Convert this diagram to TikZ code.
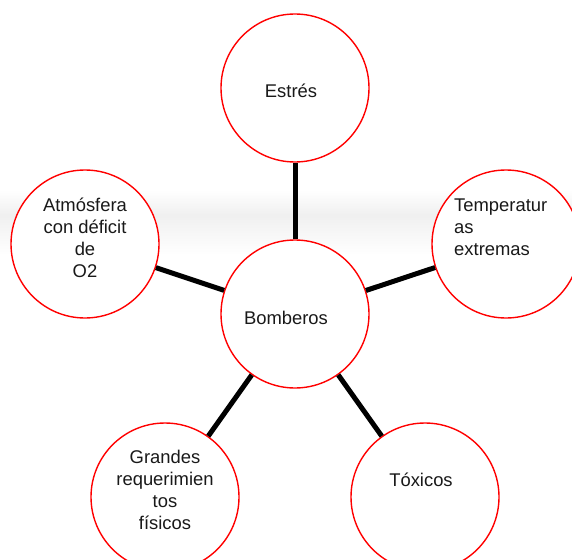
\documentclass[tikz,border=0pt]{standalone}
\usepackage{fontspec}
\setmainfont{Liberation Sans}
\begin{document}
\begin{tikzpicture}[x=1pt,y=-1pt,
  bubble/.style={circle,draw=red,line width=1.4pt,fill=white,minimum size=148pt,inner sep=0pt},
  lbl/.style={inner sep=0pt,font=\fontsize{18.4}{22}\selectfont,text=black!90},
  link/.style={line width=5pt,black}]
\path[use as bounding box,clip] (0,0) rectangle (572,559);
\fill[white] (0,0) rectangle (572,559);
% faint background watermark
\shade[top color=white,bottom color=black!6] (0,190) rectangle (572,215);
\shade[top color=black!6,bottom color=white] (0,215) rectangle (572,255);

\node[bubble] (c) at (295,314) {};
\node[bubble] (e) at (295,88) {};
\node[bubble] (a) at (85,244) {};
\node[bubble] (t) at (506,244) {};
\node[bubble] (g) at (165,497) {};
\node[bubble] (x) at (425,497) {};

\draw[link] (c) -- (e);
\draw[link] (c) -- (a);
\draw[link] (c) -- (t);
\draw[link] (c) -- (g);
\draw[link] (c) -- (x);

\node[lbl,anchor=base] (tc) at (286,324) {Bomberos};
\node[lbl,anchor=base] (te) at (291,98) {Estrés};
\node[lbl,anchor=base,align=center] (ta) at (85,277) {Atmósfera\\con déficit\\de\\O2};
\node[lbl,anchor=base west,align=left] (tt) at (454,255) {Temperatur\\as\\extremas};
\node[lbl,anchor=base,align=center] (tg) at (165,529) {Grandes\\requerimien\\tos\\físicos};
\node[lbl,anchor=base] (tx) at (421,486) {Tóxicos};
\end{tikzpicture}
\end{document}
